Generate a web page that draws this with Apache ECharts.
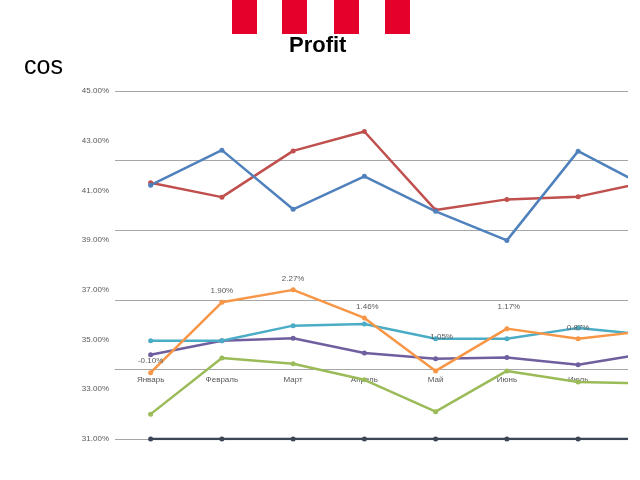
<!DOCTYPE html>
<html>
<head>
<meta charset="utf-8">
<script src="https://cdn.jsdelivr.net/npm/echarts@6/dist/echarts.min.js"></script>
<style>html,body{margin:0;padding:0;background:#fff;overflow:hidden;width:640px;height:480px}#c{width:700px;height:480px}</style>
</head>
<body>
<div id="c"></div>
<script>
const categories = ["Январь","Февраль","Март","Апрель","Май","Июнь","Июль","Август"];
const blueSeries   = [41.21, 42.62, 40.24, 41.57, 40.16, 38.99, 42.58, 41.08];
const redSeries    = [41.31, 40.73, 42.59, 43.37, 40.21, 40.64, 40.75, 41.36];
const orangeSeries = [33.67, 36.50, 37.00, 35.87, 33.74, 35.44, 35.03, 35.36];
const tealSeries   = [34.95, 34.95, 35.56, 35.63, 35.03, 35.03, 35.47, 35.18];
const purpleSeries = [34.39, 34.95, 35.05, 34.46, 34.23, 34.28, 33.99, 34.46];
const greenSeries  = [32.00, 34.26, 34.03, 33.38, 32.10, 33.74, 33.29, 33.23];
const graySeries   = [31.00, 31.00, 31.00, 31.00, 31.00, 31.00, 31.00, 31.00];
const orangeLabels = ["-0.10%","1.90%","2.27%","1.46%","1.05%","1.17%","0.87%",""];
const labelOffsets = [[0,0],[0,0],[0,0],[3,0],[6,-23],[2,-10],[0,0],[0,0]];

const chart = echarts.init(document.getElementById('c'));
const gray = '#595959';
function mk(name, data, color, extra) {
  return Object.assign({
    name, type: 'line', data, yAxisIndex: 0, xAxisIndex: 0,
    symbol: 'circle', symbolSize: 5,
    lineStyle: {width: 2.5, color},
    itemStyle: {color},
    emphasis: {disabled: true}, animation: false
  }, extra || {});
}
const orangeData = orangeSeries.map((v, i) => ({value: v, label: {offset: labelOffsets[i]}}));
chart.setOption({
  animation: false,
  graphic: [
    {type:'rect', shape:{x:232,y:0,width:25,height:34}, style:{fill:'#e4002b'}},
    {type:'rect', shape:{x:282,y:0,width:25,height:34}, style:{fill:'#e4002b'}},
    {type:'rect', shape:{x:334,y:0,width:25,height:34}, style:{fill:'#e4002b'}},
    {type:'rect', shape:{x:385,y:0,width:25,height:34}, style:{fill:'#e4002b'}},
    {type:'text', left: 289, top: 35, style:{text:'Profit', font:'bold 22px "Liberation Sans", Arial, sans-serif', fill:'#000'}},
    {type:'text', left: 24, top: 55, style:{text:'cos', font:'25px "Liberation Sans", Arial, sans-serif', fill:'#000'}},
    {type:'rect', shape:{x:628,y:80,width:80,height:400}, style:{fill:'#fff'}, z: 100}
  ],
  grid: {left: 115, top: 91, width: 570, height: 348},
  xAxis: {
    type: 'category', data: categories, boundaryGap: true, offset: -70,
    axisLine: {onZero: false, lineStyle: {color: '#a6a6a6', width: 1}},
    axisTick: {show: false},
    axisLabel: {color: gray, fontSize: 8, margin: 7, fontFamily: '"Liberation Sans", Arial, sans-serif'}
  },
  yAxis: [
    {type: 'value', min: 31, max: 45, interval: 2, position: 'left',
     axisLine: {show: false}, axisTick: {show: false}, splitLine: {show: false},
     axisLabel: {color: gray, fontSize: 8, margin: 6, formatter: v => v.toFixed(2) + '%', fontFamily: '"Liberation Sans", Arial, sans-serif'}},
    {type: 'value', min: -1, max: 4, interval: 1, position: 'right',
     axisLine: {show: false}, axisTick: {show: false}, axisLabel: {show: false},
     splitLine: {show: true, lineStyle: {color: '#a6a6a6', width: 1}}}
  ],
  series: [
    mk('gray', graySeries, '#3b4656'),
    mk('green', greenSeries, '#9bbb59'),
    mk('purple', purpleSeries, '#6f5f9f'),
    mk('teal', tealSeries, '#4bacc6'),
    mk('orange', orangeData, '#f79646', {
      label: {show: true, position: 'top', distance: 5, fontSize: 8, color: gray,
              fontFamily: '"Liberation Sans", Arial, sans-serif',
              formatter: p => orangeLabels[p.dataIndex]}
    }),
    mk('red', redSeries, '#c0504d'),
    mk('blue', blueSeries, '#4f81bd')
  ]
});
</script>
</body>
</html>
